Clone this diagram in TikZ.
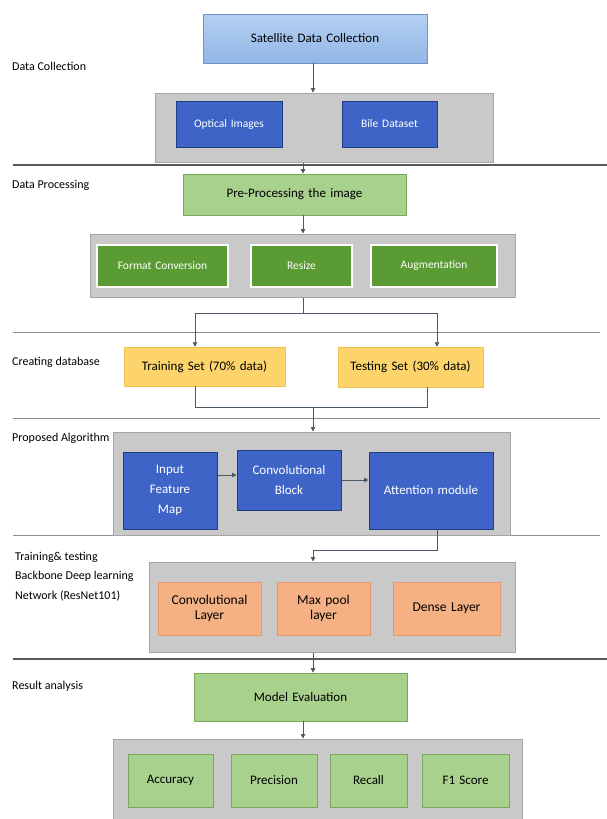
\documentclass[tikz,border=0pt]{standalone}
\usepackage{fontspec}
\setmainfont{Carlito}
\usetikzlibrary{arrows.meta,calc}
\definecolor{grayfill}{HTML}{C9C9C9}
\definecolor{grayline}{HTML}{A5A5A5}
\definecolor{bluefill}{HTML}{3D64C6}
\definecolor{blueline}{HTML}{1F3D80}
\definecolor{skytop}{HTML}{B4D0F2}
\definecolor{skybot}{HTML}{92B6E6}
\definecolor{skyline}{HTML}{6F93C8}
\definecolor{lgreen}{HTML}{A9D18E}
\definecolor{lgreenline}{HTML}{7AA95C}
\definecolor{dgreen}{HTML}{5A9B33}
\definecolor{yellowfill}{HTML}{FCD46B}
\definecolor{yellowline}{HTML}{F0C050}
\definecolor{salmon}{HTML}{F5B184}
\definecolor{salmonline}{HTML}{E39A6C}
\definecolor{conn}{HTML}{4A5868}
\definecolor{sepdark}{HTML}{5A5A5A}
\definecolor{seplight}{HTML}{8C8C8C}
\begin{document}
\begin{tikzpicture}[x=1pt,y=-1pt,
  sz/.style 2 args={minimum width=#1pt, minimum height=#2pt, text width=#1pt-8pt},
  base/.style={rectangle, inner sep=2pt, align=center, font=\fontsize{13}{16}\selectfont},
  small/.style={font=\fontsize{11.5}{14}\selectfont},
  graybox/.style={rectangle, fill=grayfill, draw=grayline, line width=1pt},
  bluebox/.style={base, fill=bluefill, draw=blueline, line width=1pt, text=white},
  skybox/.style={base, top color=skytop, bottom color=skybot, draw=skyline, line width=0.8pt},
  lgbox/.style={base, fill=lgreen, draw=lgreenline, line width=0.8pt},
  dgbox/.style={base, fill=dgreen, draw=white, line width=1.4pt, text=white},
  ybox/.style={base, fill=yellowfill, draw=yellowline, line width=0.5pt},
  sbox/.style={base, fill=salmon, draw=salmonline, line width=0.8pt, font=\fontsize{13.5}{15.5}\selectfont},
  lab/.style={anchor=west, inner sep=0pt, font=\fontsize{12}{14}\selectfont},
  arr/.style={draw=conn, line width=0.9pt, -{Triangle[length=4.5pt,width=4.5pt]}},
  ln/.style={draw=conn, line width=0.9pt},
  septhick/.style={draw=sepdark, line width=1.6pt},
  septhin/.style={draw=seplight, line width=0.8pt}
]
\useasboundingbox[fill=white] (0,0) rectangle (607,819);

% separators
\coordinate (L1a) at (13,165);  \coordinate (L1b) at (607,165);
\coordinate (L2a) at (13,332);  \coordinate (L2b) at (600,332);
\coordinate (L3a) at (13,418);  \coordinate (L3b) at (600,418);
\coordinate (L4a) at (13,535);  \coordinate (L4b) at (600,535);
\coordinate (L5a) at (13,659);  \coordinate (L5b) at (607,659);
\draw[septhick] (L1a) -- (L1b);
\draw[septhin] (L2a) -- (L2b);
\draw[septhin] (L3a) -- (L3b);
\draw[septhin] (L4a) -- (L4b);
\draw[septhick] (L5a) -- (L5b);

% section labels
\node[lab] (t1) at (12,66) {Data Collection};
\node[lab] (t2) at (12,185) {Data Processing};
\node[lab] (t3) at (12,362) {Creating database};
\node[lab] (t4) at (12,438) {Proposed Algorithm};
\node[lab] (t5) at (15,557) {Training\& testing};
\node[lab] (t6) at (15,576) {Backbone Deep learning};
\node[lab] (t7) at (15,596) {Network (ResNet101)};
\node[lab] (t8) at (12,686) {Result analysis};

% Data collection
\node[skybox, sz={224}{49}] (sat) at (315,38.5) {Satellite Data Collection};
\node[graybox, minimum width=338pt, minimum height=69pt] (g1) at (324,127.5) {};
\node[bluebox, sz={106}{46}, small] (opt) at (229,124) {Optical Images};
\node[bluebox, sz={95}{46}, small] (bile) at (389.5,124) {Bile Dataset};
\coordinate (x313) at (313,0);
\draw[arr] (sat.south -| x313) -- (g1.north -| x313);

% Data processing
\node[lgbox, sz={223}{41}] (pre) at (294.5,194.5) {Pre-Processing the image};
\coordinate (x303) at (303,0);
\draw[arr] (g1.south -| x303) -- (pre.north -| x303);
\node[graybox, minimum width=425pt, minimum height=63pt] (g2) at (302.5,265.5) {};
\node[dgbox, sz={131}{42}, small] (fmt) at (162.5,266) {Format Conversion};
\node[dgbox, sz={101}{42}, small] (rsz) at (301.5,266) {Resize};
\node[dgbox, sz={126}{42}, small] (aug) at (434,266) {Augmentation};
\draw[arr] (pre.south -| x303) -- (g2.north -| x303);

% Creating database
\node[ybox, sz={161}{39}] (train) at (204.5,366.5) {Training Set (70\% data)};
\node[ybox, sz={145}{40}] (test) at (410.5,367) {Testing Set (30\% data)};
\coordinate (s0) at (303,313);
\coordinate (sL) at (195,313);
\coordinate (sR) at (437,313);
\draw[ln] (g2.south -| s0) -- (s0);
\draw[arr] (s0) -- (sL) -- (train.north -| sL);
\draw[arr] (s0) -- (sR) -- (test.north -| sR);
\coordinate (m1) at (195,407);
\coordinate (m2) at (427,407);
\coordinate (m3) at (313,407);
\draw[ln] (train.south -| m1) -- (m1) -- (m2) -- (test.south -| m2);

% Proposed algorithm
\node[graybox, minimum width=397pt, minimum height=103pt] (g3) at (311.5,483.5) {};
\draw[arr] (m3) -- (g3.north -| m3);
\node[bluebox, sz={94}{77}, font=\fontsize{13}{20}\selectfont] (inp) at (170,490.5) {Input\\Feature\\Map};
\node[bluebox, sz={104}{60}, font=\fontsize{13}{20}\selectfont] (cb) at (289,480) {Convolutional\\Block};
\node[bluebox, sz={124}{77}] (att) at (431,490.5) {Attention module};
\coordinate (y475) at (0,475);
\coordinate (y480) at (0,480);
\draw[arr] (inp.east |- y475) -- (cb.west |- y475);
\draw[arr] (cb.east |- y480) -- (att.west |- y480);

% Training & testing
\node[graybox, minimum width=366pt, minimum height=90pt] (g4) at (332,607) {};
\coordinate (jA) at (437,550);
\coordinate (jB) at (313,550);
\draw[arr] (att.south -| jA) -- (jA) -- (jB) -- (g4.north -| jB);
\node[sbox, sz={103}{53}] (cl) at (209.5,608.5) {Convolutional\\Layer};
\node[sbox, sz={93}{53}] (mp) at (323.5,608.5) {Max pool\\layer};
\node[sbox, sz={107}{53}] (dl) at (446.5,608.5) {Dense Layer};

% Result analysis
\node[lgbox, sz={213}{48}] (me) at (300.5,697) {Model Evaluation};
\draw[arr] (g4.south -| x313) -- (me.north -| x313);
\node[graybox, minimum width=409pt, minimum height=81pt] (g5) at (317.5,779.5) {};
\draw[arr] (me.south -| x303) -- (g5.north -| x303);
\node[lgbox, sz={85}{53}] (acc) at (170.5,780.5) {Accuracy};
\node[lgbox, sz={86}{53}] (prc) at (274,780.5) {Precision};
\node[lgbox, sz={77}{53}] (rec) at (368.5,780.5) {Recall};
\node[lgbox, sz={87}{53}] (f1) at (465.5,780.5) {F1 Score};
\end{tikzpicture}
\end{document}
